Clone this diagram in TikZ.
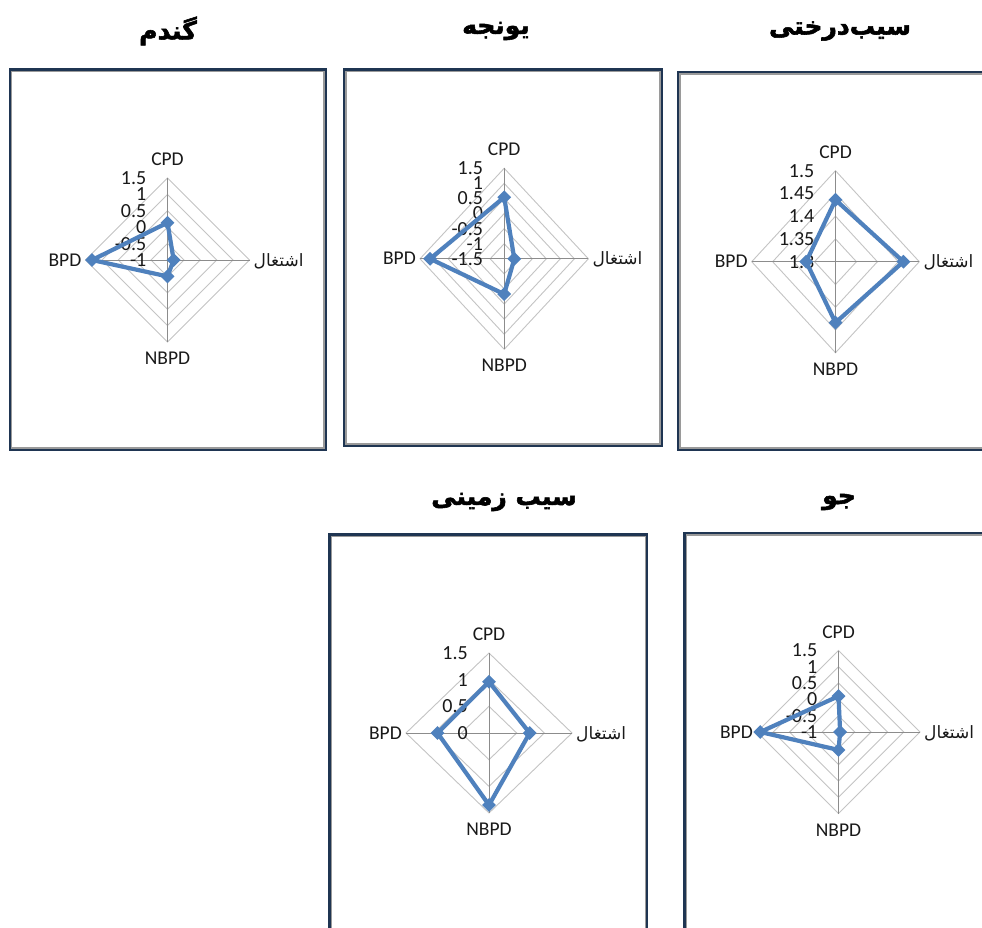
\documentclass[tikz,border=0pt]{standalone}
\usepackage{fontspec}
\setmainfont{Carlito}
\newfontfamily\arabicfont[Script=Arabic]{DejaVu Sans}
\newfontfamily\titlefont[Script=Arabic, FakeBold=2.2]{DejaVu Sans Bold}
\TeXXeTstate=1
\usetikzlibrary{shapes.geometric}
\definecolor{framedark}{HTML}{1F3552}
\definecolor{framegray}{HTML}{9A9A9A}
\definecolor{ringgray}{HTML}{C4C4C4}
\definecolor{spokegray}{HTML}{8C8C8C}
\definecolor{serblue}{HTML}{4F81BD}
\tikzset{
  frameouter/.style={draw=framedark, line width=2.2pt},
  frameinner/.style={draw=framegray, line width=1.6pt},
  ringline/.style={draw=ringgray, line width=0.9pt},
  spokeline/.style={draw=spokegray, line width=0.9pt},
  seriesline/.style={draw=serblue, line width=4.2pt, line join=round},
  datamark/.style={diamond, aspect=1, fill=serblue, inner sep=0pt, minimum size=14pt},
  ticklabel/.style={font=\fontsize{20}{22}\selectfont, inner sep=0pt, anchor=east, text=black!90},
  catlabel/.style={font=\fontsize{19.5}{22}\selectfont, inner sep=0pt, text=black!90},
  eshlabel/.style={font=\arabicfont\fontsize{17}{20}\selectfont, inner sep=0pt, anchor=base west, text=black!90},
  charttitle/.style={font=\titlefont\fontsize{25}{28}\selectfont, inner sep=0pt},
}
% frame: x1 y1 x2 y2 (outer edges)
\newcommand\chartframe[4]{%
  \draw[frameouter] (#1+1.1,#2+1.1) rectangle (#3-1.1,#4-1.1);
  \draw[frameinner] (#1+3.0,#2+3.0) rectangle (#3-3.0,#4-3.0);
}
% grid: name cx cy rx ry n ticklabels
\newcommand\radargrid[7]{%
  \begin{scope}[shift={(#2,#3)}, x=#4pt, y=#5pt]
    \foreach \k in {1,...,#6}{\pgfmathsetmacro\ff{\k/#6}
      \draw[ringline] (0,\ff) -- (\ff,0) -- (0,-\ff) -- (-\ff,0) -- cycle;}
    \draw[spokeline] (0,1) -- (0,-1) (-1,0) -- (1,0);
    \foreach \lab [count=\i from 0] in {#7}{\pgfmathsetmacro\ff{1-\i/#6}
      \node[ticklabel] (#1-t\i) at ([xshift=-21pt]0,\ff) {\lab};}
    \node[catlabel, anchor=base] (#1-cpd) at ([yshift=12.5pt]0,1) {CPD};
    \node[catlabel, anchor=base] (#1-nbpd) at ([yshift=-22.5pt]0,-1) {NBPD};
    \node[catlabel, anchor=base east] (#1-bpd) at ([xshift=-4pt,yshift=-6pt]-1,0) {BPD};
    \node[eshlabel] (#1-esh) at ([xshift=4pt,yshift=-6pt]1,0) {\beginR اشتغال\endR};
  \end{scope}}
% series: name cx cy rx ry cpd esh nbpd bpd (fractions of radius)
\newcommand\radarseries[9]{%
  \begin{scope}[shift={(#2,#3)}, x=#4pt, y=#5pt]
    \coordinate (#1-c) at (0,#6);
    \coordinate (#1-e) at (#7,0);
    \coordinate (#1-n) at (0,-#8);
    \coordinate (#1-b) at (-#9,0);
    \draw[seriesline] (#1-c) -- (#1-e) -- (#1-n) -- (#1-b) -- cycle;
    \foreach \p in {c,e,n,b} \node[datamark] (#1-m\p) at (#1-\p) {};
  \end{scope}}
\begin{document}
\begin{tikzpicture}[x=1pt,y=-1pt]
  \useasboundingbox (0,0) rectangle (982,927);
  \clip (0,0) rectangle (982,927);
  \fill[white] (0,0) rectangle (982,927);

  % titles
  \node[charttitle] (title1) at (168,31) {\beginR گندم\endR};
  \node[charttitle] (title2) at (496,31) {\beginR یونجه\endR};
  \node[charttitle] (title3) at (840,31) {\beginR سیب‌درختی\endR};
  \node[charttitle] (title4) at (504,502) {\beginR سیب زمینی\endR};
  \node[charttitle] (title5) at (839,502) {\beginR جو\endR};

  % frames
  \chartframe{8.5}{68.3}{326.7}{450.7}
  \chartframe{343}{68.3}{662.7}{446.7}
  \chartframe{676.7}{70.7}{1000}{450.7}
  \chartframe{328.3}{533.3}{648.3}{960}
  \chartframe{683.3}{531.7}{1000}{960}

  % chart 1: wheat
  \radargrid{g}{167.5}{260}{82}{82}{5}{1.5,1,0.5,0,-0.5,-1}
  \radarseries{g}{167.5}{260}{82}{82}{0.455}{0.075}{0.2}{0.92}

  % chart 2: alfalfa
  \radargrid{y}{504.2}{258.8}{84.2}{90.5}{6}{1.5,1,0.5,0,-0.5,-1,-1.5}
  \radarseries{y}{504.2}{258.8}{84.2}{90.5}{0.68}{0.12}{0.39}{0.88}

  % chart 3: apple
  \radargrid{s}{835.5}{261.7}{83.8}{91}{4}{1.5,1.45,1.4,1.35,1.3}
  \radarseries{s}{835.5}{261.7}{83.8}{91}{0.68}{0.81}{0.67}{0.35}

  % chart 4: potato
  \radargrid{z}{489}{733}{83}{80}{3}{1.5,1,0.5,0}
  \radarseries{z}{489}{733}{83}{80}{0.64}{0.49}{0.9}{0.62}

  % chart 5: barley
  \radargrid{j}{838.5}{732}{81.5}{81.5}{5}{1.5,1,0.5,0,-0.5,-1}
  \radarseries{j}{838.5}{732}{81.5}{81.5}{0.44}{0.02}{0.22}{0.96}
\end{tikzpicture}
\end{document}
